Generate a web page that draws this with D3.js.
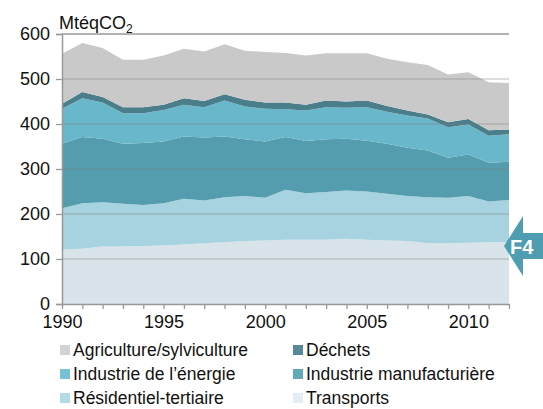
<!DOCTYPE html>
<html>
<head>
<meta charset="utf-8">
<script src="https://cdn.jsdelivr.net/npm/d3@7"></script>
<style>
  body { margin: 0; background: #fff; }
  text { font-family: "Liberation Sans", Arial, sans-serif; fill: #111; }
</style>
</head>
<body>
<svg id="chart" width="543" height="409"></svg>
<script>
// values in MtéqCO2
var years = d3.range(1990, 2013);
var transports     = [121,123,128,128,129,130,132,135,137,140,141,143,143,143,145,143,141,140,135,135,136,137,137];
var residentiel    = [92,101,98,95,91,94,102,95,100,100,95,111,103,106,107,107,104,100,102,101,104,91,94];
var manufacturiere = [143,147,141,133,138,137,138,140,135,126,125,117,116,117,115,113,111,107,104,89,92,86,85];
var energie        = [78,86,81,68,66,70,71,67,80,73,73,62,68,71,69,74,71,72,71,68,67,60,61];
var dechets        = [11,14,12,13,13,12,14,14,14,15,14,15,13,15,14,15,13,11,9,11,12,12,11];
var agriculture    = [111,109,109,106,106,109,110,110,111,109,112,110,109,105,107,105,105,107,110,106,104,107,103];
var yTicks = [0, 100, 200, 300, 400, 500, 600];
var xLabels = [1990, 1995, 2000, 2005, 2010];

var keys = ["transports", "residentiel", "manufacturiere", "energie", "dechets", "agriculture"];
var labels = {
    agriculture: "Agriculture/sylviculture",
    dechets: "Déchets",
    energie: "Industrie de l\u2019énergie",
    manufacturiere: "Industrie manufacturière",
    residentiel: "Résidentiel-tertiaire",
    transports: "Transports"
};
var colors = {
    transports: "#d9e4ea",
    residentiel: "#a7d2df",
    manufacturiere: "#549dae",
    energie: "#69b7cb",
    dechets: "#4a7e8b",
    agriculture: "#c9c9c9"
};
var legendColors = {
    agriculture: "#d3d3d3",
    dechets: "#55899a",
    energie: "#74c2d4",
    manufacturiere: "#62a9ba",
    residentiel: "#b3dbe6",
    transports: "#e3eef3"
};

var table = years.map(function (y, i) {
    return {
        year: y,
        transports: transports[i],
        residentiel: residentiel[i],
        manufacturiere: manufacturiere[i],
        energie: energie[i],
        dechets: dechets[i],
        agriculture: agriculture[i]
    };
});

var svg = d3.select("#chart");

var x = d3.scaleLinear().domain([1990, 2012]).range([62, 509]);
var y = d3.scaleLinear().domain([0, 600]).range([304, 34]);

var series = d3.stack().keys(keys)(table);

var area = d3.area()
    .x(function (d) { return x(d.data.year); })
    .y0(function (d) { return y(d[0]); })
    .y1(function (d) { return y(d[1]); });

svg.append("g").selectAll("path")
    .data(series)
    .enter().append("path")
    .attr("fill", function (d) { return colors[d.key]; })
    .attr("d", area);

// grid lines over the areas
svg.append("g").selectAll("line")
    .data(yTicks.filter(function (t) { return t > 0; }))
    .enter().append("line")
    .attr("x1", x(1990)).attr("x2", x(2012))
    .attr("y1", function (d) { return y(d); })
    .attr("y2", function (d) { return y(d); })
    .attr("stroke", "#7f7f7f")
    .attr("stroke-opacity", function (d) { return d === 600 ? 0.8 : 0.35; })
    .attr("stroke-width", 1.3);

// y axis
var yAxis = d3.axisLeft(y).tickValues(yTicks).tickSize(6).tickPadding(6);
var gy = svg.append("g").attr("transform", "translate(" + x(1990) + ",0)").call(yAxis);
gy.select(".domain").attr("stroke", "#999").attr("stroke-width", 1.5);
gy.selectAll(".tick line").attr("stroke", "#999").attr("stroke-width", 1.3);
gy.selectAll("text").style("font-size", "18px").attr("fill", "#111")
    .attr("font-family", "Liberation Sans, Arial, sans-serif");

// x axis
var xAxis = d3.axisBottom(x).tickValues(years).tickSize(5).tickSizeOuter(0).tickPadding(6)
    .tickFormat(function (d) { return xLabels.indexOf(d) >= 0 ? d : ""; });
var gx = svg.append("g").attr("transform", "translate(0," + y(0) + ")").call(xAxis);
gx.select(".domain").attr("stroke", "#999").attr("stroke-width", 1.5);
gx.selectAll(".tick line").attr("stroke", "#999").attr("stroke-width", 1.3);
gx.selectAll("text").style("font-size", "18px").attr("fill", "#111")
    .attr("font-family", "Liberation Sans, Arial, sans-serif");

// unit label
var unit = svg.append("text").attr("x", 59).attr("y", 29).style("font-size", "18px");
unit.append("tspan").text("MtéqCO");
unit.append("tspan").attr("dy", 4).style("font-size", "12px").text("2");

// F4 marker
var bx = 504, by = 246;
svg.append("path")
    .attr("d", "M" + bx + "," + by + " L" + (bx + 19) + "," + (by - 30) + " L" + (bx + 19) + "," + (by - 13) +
        " L543," + (by - 13) + " L543," + (by + 13) + " L" + (bx + 19) + "," + (by + 13) +
        " L" + (bx + 19) + "," + (by + 30) + " Z")
    .attr("fill", "#4e9db1");
svg.append("text").attr("x", 510).attr("y", by + 8)
    .style("font-size", "20px").style("font-weight", "bold").style("fill", "#fff")
    .text("F4");

// legend
var legendOrder = ["agriculture", "dechets", "energie", "manufacturiere", "residentiel", "transports"];
var leg = svg.append("g").selectAll("g")
    .data(legendOrder)
    .enter().append("g")
    .attr("transform", function (d, i) {
        var col = i % 2, row = Math.floor(i / 2);
        return "translate(" + (col === 0 ? 60 : 293) + "," + (345 + row * 24) + ")";
    });
leg.append("rect").attr("width", 10).attr("height", 10)
    .attr("fill", function (d) { return legendColors[d]; });
leg.append("text").attr("x", 13).attr("y", 11)
    .style("font-size", "17.5px")
    .text(function (d) { return labels[d]; });
</script>
</body>
</html>
